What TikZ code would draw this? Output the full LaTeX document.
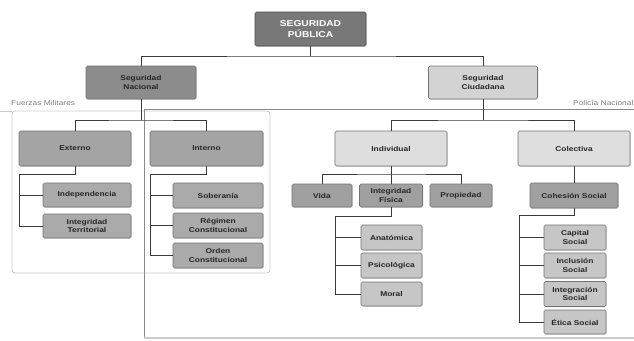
\documentclass[tikz,border=0pt]{standalone}
\usepackage{fontspec}
\setmainfont{Liberation Sans}
\newfontfamily\bxf{Liberation Sans}[FakeStretch=1.2]
\usetikzlibrary{shadows}
\definecolor{cTop}{HTML}{787878}
\definecolor{cNac}{HTML}{8C8C8C}
\definecolor{cCiu}{HTML}{D3D3D3}
\definecolor{cLvl}{HTML}{A4A4A4}
\definecolor{cLeafL}{HTML}{AAAAAA}
\definecolor{cInd}{HTML}{DEDEDE}
\definecolor{cMid}{HTML}{A0A0A0}
\definecolor{cLeafR}{HTML}{C6C6C6}
\definecolor{cLine}{HTML}{3A3A3A}
\definecolor{cFrame}{HTML}{8A8A8A}
\definecolor{cFrameL}{HTML}{CCCCCC}
\begin{document}
\begin{tikzpicture}[x=1pt,y=-1pt,
  bx/.style={rounded corners=1.5pt, draw=black!55, line width=0.6pt, align=center,
    inner sep=0pt, text=black!85, font=\bxf\bfseries\fontsize{7}{8.5}\selectfont,
    drop shadow={opacity=0.25, shadow xshift=0.8pt, shadow yshift=-0.8pt}},
  sz/.style 2 args={minimum width=#1pt, minimum height=#2pt},
  cn/.style={draw=cLine, line width=0.9pt},
  lbl/.style={font=\bxf\fontsize{7}{8}\selectfont, text=black!50, inner sep=0pt}]
\fill[white] (0,0) rectangle (634,340);
\useasboundingbox (0,0) rectangle (634,340);

% frames
\draw[cFrameL, line width=0.9pt, rounded corners=3pt] (12,111) rectangle (270,273);
\draw[cFrameL, line width=0.9pt] (0,111) -- (12,111);
\draw[cFrame, line width=0.8pt] (144,338) -- (144,109) -- (640,109);
\draw[cFrameL, line width=2pt] (144,338) -- (640,338);
\node[lbl, anchor=west] (fm) at (11,103) {Fuerzas Militares};
\node[lbl, anchor=west] (pn) at (573,103) {Policía Nacional};

% nodes
\node[bx, sz={111}{34}, fill=cTop, text=white, draw=black!70,
  font=\bxf\bfseries\fontsize{8.5}{11}\selectfont] (pub) at (310.5,29) {SEGURIDAD\\PÚBLICA};
\node[bx, sz={110}{33}, fill=cNac] (nac) at (141,82.5) {Seguridad\\Nacional};
\node[bx, sz={109}{33}, fill=cCiu] (ciu) at (483,82.5) {Seguridad\\Ciudadana};

\node[bx, sz={112}{35}, fill=cLvl] (ext) at (75,148.5) {Externo};
\node[bx, sz={113}{35}, fill=cLvl] (int) at (206.5,148.5) {Interno};
\node[bx, sz={88}{24}, fill=cLeafL] (indep) at (87,195) {Independencia};
\node[bx, sz={88}{24}, fill=cLeafL] (terr) at (87,226) {Integridad\\Territorial};
\node[bx, sz={90}{25}, fill=cLeafL] (sob) at (218,195.5) {Soberanía};
\node[bx, sz={90}{25}, fill=cLeafL] (reg) at (218,225.5) {Régimen\\Constitucional};
\node[bx, sz={90}{25}, fill=cLeafL] (ord) at (218,255.5) {Orden\\Constitucional};

\node[bx, sz={112}{35}, fill=cInd] (indiv) at (391,148.5) {Individual};
\node[bx, sz={112}{35}, fill=cInd] (col) at (574,148.5) {Colectiva};
\node[bx, sz={60}{23}, fill=cMid] (vida) at (322,195.5) {Vida};
\node[bx, sz={63}{23}, fill=cMid] (fis) at (391,195.5) {Integridad\\Física};
\node[bx, sz={62}{23}, fill=cMid] (prop) at (461,195.5) {Propiedad};
\node[bx, sz={88}{25}, fill=cMid] (coh) at (574,195.5) {Cohesión Social};

\node[bx, sz={61}{25}, fill=cLeafR] (anat) at (391.5,237.5) {Anatómica};
\node[bx, sz={61}{25}, fill=cLeafR] (psic) at (391.5,265.5) {Psicológica};
\node[bx, sz={61}{24}, fill=cLeafR] (moral) at (391.5,294) {Moral};
\node[bx, sz={62}{25}, fill=cLeafR] (cap) at (575,237.5) {Capital\\Social};
\node[bx, sz={62}{25}, fill=cLeafR] (incl) at (575,265.5) {Inclusión\\Social};
\node[bx, sz={62}{25}, fill=cLeafR] (integ) at (575,294) {Integración\\Social};
\node[bx, sz={62}{24}, fill=cLeafR] (etica) at (575,322) {Ética Social};

% connectors
\coordinate (j1) at (310.5,56);
\draw[cn] (pub.south) -- (j1);
\draw[cn] (nac.north) |- (j1) -| (ciu.north);

\coordinate (j2) at (141,120);
\draw[cn] (nac.south) -- (j2);
\draw[cn] (ext.north) |- (j2) -| (int.north);

\coordinate (j3) at (483,120);
\draw[cn] (ciu.south) -- (j3);
\draw[cn] (indiv.north) |- (j3) -| (col.north);

\coordinate (eb) at (19,174);
\draw[cn] (ext.south) |- (eb) |- (terr.west);
\draw[cn] (eb |- indep.west) -- (indep.west);

\coordinate (ib) at (150,174);
\draw[cn] (int.south) |- (ib) |- (ord.west);
\draw[cn] (ib |- sob.west) -- (sob.west);
\draw[cn] (ib |- reg.west) -- (reg.west);

\coordinate (vb) at (391,174);
\draw[cn] (indiv.south) -- (vb);
\draw[cn] (vida.north) |- (vb) -| (prop.north);
\draw[cn] (vb) -- (fis.north);

\draw[cn] (col.south) -- (coh.north);

\coordinate (fb) at (335,216);
\draw[cn] (fis.south) |- (fb) |- (moral.west);
\draw[cn] (fb |- anat.west) -- (anat.west);
\draw[cn] (fb |- psic.west) -- (psic.west);

\coordinate (cb) at (519,215);
\draw[cn] (coh.south) |- (cb) |- (etica.west);
\draw[cn] (cb |- cap.west) -- (cap.west);
\draw[cn] (cb |- incl.west) -- (incl.west);
\draw[cn] (cb |- integ.west) -- (integ.west);
\end{tikzpicture}
\end{document}
